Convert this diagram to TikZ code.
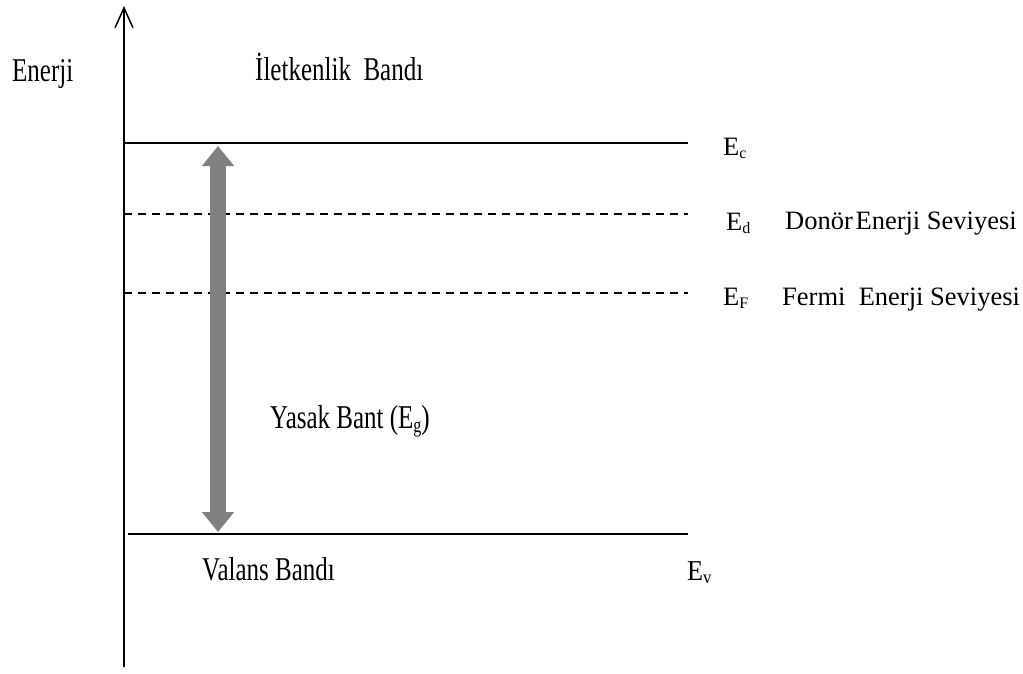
\documentclass[tikz,border=0pt]{standalone}
\usepackage{fontspec}
\setmainfont{Liberation Serif}
\usetikzlibrary{arrows.meta}

\newcommand{\tall}[1]{\scalebox{1}[1.33]{#1}}
\newcommand{\lsub}[1]{\raisebox{-0.3ex}{\fontsize{16}{18}\selectfont #1}}

\begin{document}
\begin{tikzpicture}[x=1pt,y=-1pt,
  lbl/.style={inner sep=0pt, anchor=base west, font=\fontsize{25}{30}\selectfont},
  rlbl/.style={inner sep=0pt, anchor=base west, font=\fontsize{26.5}{30}\selectfont},
  level/.style={line width=1.8pt},
  dlevel/.style={line width=1.4pt, dash pattern=on 8pt off 6pt},
  gap/.style={line width=16pt, draw={rgb,255:red,128;green,128;blue,128},
    {Triangle[width=31pt,length=20pt]}-{Triangle[width=31pt,length=20pt]}}
]
\useasboundingbox (0,0) rectangle (1023,673);

% energy axis
\coordinate (axB) at (124,667);
\coordinate (axT) at (124,6);
\draw[line width=1.5pt, -{Straight Barb[length=20pt,width=18pt]}] (axB) -- (axT);

% band edges and levels
\coordinate (cL) at (124,143);  \coordinate (cR) at (688,143);
\coordinate (dL) at (124,214);  \coordinate (dR) at (688,214);
\coordinate (fL) at (124,293);  \coordinate (fR) at (688,293);
\coordinate (vL) at (128,534);  \coordinate (vR) at (688,534);
\draw[level] (cL) -- (cR);
\draw[dlevel] (dL) -- (dR);
\draw[dlevel] (fL) -- (fR);
\draw[level] (vL) -- (vR);

% band gap arrow
\coordinate (gT) at (218,146);
\coordinate (gB) at (218,532);
\draw[gap] (gB) -- (gT);

% labels
\node[lbl] (enerji) at (12,81) {\tall{Enerji}};
\node[lbl] (iletken) at (255,80) {\tall{İletkenlik\ \ Bandı}};
\node[lbl] (yasak) at (270,428) {\tall{Yasak Bant (E\lsub{g})}};
\node[lbl] (valans) at (202,580) {\tall{Valans Bandı}};

\node[rlbl] (Ec) at (723,155) {E\lsub{c}};
\node[rlbl] (Ed) at (726,230) {E\lsub{d}};
\node[rlbl] (donor) at (785,229) {Donör\hspace{0.1em}Enerji Seviyesi};
\node[rlbl] (EF) at (723,305) {E\lsub{F}};
\node[rlbl] (fermi) at (782,305) {Fermi\ \ Enerji Seviyesi};
\node[lbl] (Ev) at (687,580) {\scalebox{1.05}[1.15]{E\lsub{v}}};
\end{tikzpicture}
\end{document}
